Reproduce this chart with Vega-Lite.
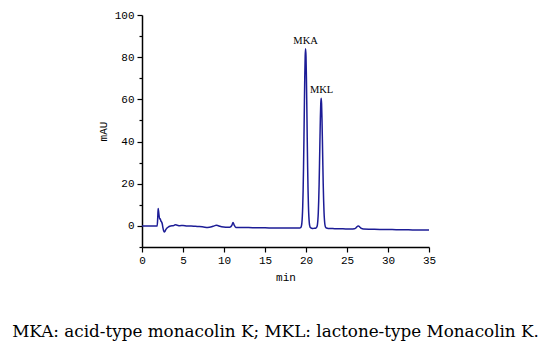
{
  "$schema": "https://vega.github.io/schema/vega-lite/v6.json",
  "width": 287,
  "height": 232,
  "autosize": {"type": "none"},
  "padding": {"left": 142, "top": 15, "right": 121, "bottom": 108},
  "background": "white",
  "config": {
    "view": {"stroke": null},
    "axis": {
      "domainColor": "black", "tickColor": "black", "labelColor": "black", "titleColor": "black",
      "grid": false, "labelFont": "Liberation Mono", "titleFont": "Liberation Mono",
      "labelFontSize": 11, "titleFontSize": 11, "titleFontWeight": "normal",
      "domainWidth": 1.5, "tickWidth": 1.2
    }
  },
  "title": {
    "text": "MKA: acid-type monacolin K; MKL: lactone-type Monacolin K.",
    "orient": "bottom", "offset": 42, "font": "DejaVu Serif", "fontSize": 16.8,
    "fontWeight": "normal", "color": "black", "anchor": "middle", "dx": -10
  },
  "layer": [
    {
      "data": {"values": [
        {"t": 0, "v": 0}, {"t": 1.0, "v": 0.0}, {"t": 1.85, "v": -0.05}, {"t": 1.92, "v": 4}, {"t": 1.97, "v": 8.2},
        {"t": 2.02, "v": 7.0}, {"t": 2.08, "v": 5.0}, {"t": 2.15, "v": 3.3}, {"t": 2.22, "v": 3.4}, {"t": 2.3, "v": 2.4},
        {"t": 2.4, "v": 1.8}, {"t": 2.48, "v": 0.8}, {"t": 2.55, "v": -0.8}, {"t": 2.63, "v": -2.2}, {"t": 2.72, "v": -2.9},
        {"t": 2.8, "v": -2.6}, {"t": 2.9, "v": -1.8}, {"t": 3.05, "v": -1.0}, {"t": 3.25, "v": -0.4}, {"t": 3.5, "v": 0.0},
        {"t": 3.8, "v": 0.1}, {"t": 4.05, "v": 0.5}, {"t": 4.3, "v": 0.3}, {"t": 4.6, "v": 0.1}, {"t": 5.0, "v": 0.2},
        {"t": 5.5, "v": 0.0}, {"t": 6.0, "v": 0.0}, {"t": 6.5, "v": -0.2}, {"t": 7.0, "v": -0.3}, {"t": 7.5, "v": -0.5},
        {"t": 8.0, "v": -0.7}, {"t": 8.5, "v": -0.4}, {"t": 8.8, "v": 0.0}, {"t": 9.05, "v": 0.3}, {"t": 9.3, "v": 0.1},
        {"t": 9.7, "v": -0.4}, {"t": 10.2, "v": -0.6}, {"t": 10.7, "v": -0.6}, {"t": 10.95, "v": 0.2}, {"t": 11.1, "v": 1.6},
        {"t": 11.25, "v": 0.3}, {"t": 11.45, "v": -0.7}, {"t": 12.0, "v": -0.8}, {"t": 13, "v": -0.8}, {"t": 14, "v": -0.9},
        {"t": 15, "v": -0.9}, {"t": 16, "v": -1.0}, {"t": 17, "v": -1.0}, {"t": 18, "v": -1.0}, {"t": 18.8, "v": -0.95},
        {"t": 19.25, "v": -0.95}, {"t": 19.35, "v": -0.85}, {"t": 19.4, "v": -0.55}, {"t": 19.45, "v": 0.1}, {"t": 19.5, "v": 1.55},
        {"t": 19.55, "v": 4.4}, {"t": 19.6, "v": 9.2}, {"t": 19.65, "v": 16.9}, {"t": 19.7, "v": 27.8}, {"t": 19.75, "v": 41.5},
        {"t": 19.8, "v": 56.6}, {"t": 19.85, "v": 70.5}, {"t": 19.9, "v": 80.4}, {"t": 19.95, "v": 84.0}, {"t": 20.0, "v": 80.4},
        {"t": 20.05, "v": 70.5}, {"t": 20.1, "v": 56.6}, {"t": 20.15, "v": 41.5}, {"t": 20.2, "v": 27.8}, {"t": 20.25, "v": 16.9},
        {"t": 20.3, "v": 9.2}, {"t": 20.35, "v": 4.4}, {"t": 20.4, "v": 1.55}, {"t": 20.45, "v": 0.1}, {"t": 20.5, "v": -0.55},
        {"t": 20.6, "v": -0.95}, {"t": 20.7, "v": -1.1}, {"t": 20.85, "v": -1.2}, {"t": 21.0, "v": -1.15}, {"t": 21.15, "v": -1.1},
        {"t": 21.25, "v": -0.9}, {"t": 21.3, "v": -0.6}, {"t": 21.35, "v": -0.2}, {"t": 21.4, "v": 0.8}, {"t": 21.45, "v": 2.9},
        {"t": 21.5, "v": 6.4}, {"t": 21.55, "v": 12.0}, {"t": 21.6, "v": 19.8}, {"t": 21.65, "v": 29.8}, {"t": 21.7, "v": 40.7},
        {"t": 21.75, "v": 50.7}, {"t": 21.8, "v": 57.9}, {"t": 21.85, "v": 60.5}, {"t": 21.9, "v": 57.9}, {"t": 21.95, "v": 50.7},
        {"t": 22.0, "v": 40.7}, {"t": 22.05, "v": 29.8}, {"t": 22.1, "v": 19.8}, {"t": 22.15, "v": 12.0}, {"t": 22.2, "v": 6.4},
        {"t": 22.25, "v": 2.9}, {"t": 22.3, "v": 0.8}, {"t": 22.35, "v": -0.2}, {"t": 22.4, "v": -0.7}, {"t": 22.5, "v": -1.0},
        {"t": 22.7, "v": -1.2}, {"t": 23.5, "v": -1.3}, {"t": 24.5, "v": -1.4}, {"t": 25.5, "v": -1.5}, {"t": 25.9, "v": -1.4},
        {"t": 26.1, "v": -0.9}, {"t": 26.3, "v": -0.1}, {"t": 26.4, "v": 0.0}, {"t": 26.55, "v": -0.5}, {"t": 26.75, "v": -1.2},
        {"t": 27.0, "v": -1.5}, {"t": 28, "v": -1.6}, {"t": 29, "v": -1.7}, {"t": 30, "v": -1.7}, {"t": 31, "v": -1.8},
        {"t": 32, "v": -1.8}, {"t": 33, "v": -1.9}, {"t": 34, "v": -1.9}, {"t": 35, "v": -2.0}
      ]},
      "mark": {"type": "line", "color": "#1c1c96", "strokeWidth": 1.5, "interpolate": "monotone"},
      "encoding": {
        "x": {
          "field": "t", "type": "quantitative",
          "scale": {"domain": [0, 35], "nice": false, "zero": false},
          "axis": {
            "title": "min",
            "values": [0, 2.5, 5, 7.5, 10, 12.5, 15, 17.5, 20, 22.5, 25, 27.5, 30, 32.5, 35],
            "labelExpr": "datum.value % 5 === 0 ? datum.label : ''",
            "tickSize": {"condition": {"test": "datum.value % 5 === 0", "value": 5}, "value": 3},
            "labelPadding": 2, "titlePadding": 6, "labelFlush": false, "labelOverlap": false
          }
        },
        "y": {
          "field": "v", "type": "quantitative",
          "scale": {"domain": [-10, 100], "nice": false, "zero": false},
          "axis": {
            "title": "mAU",
            "tickCount": 11,
            "labelExpr": "datum.value % 20 === 0 ? datum.label : ''",
            "tickSize": {"condition": {"test": "datum.value % 20 === 0", "value": 5}, "value": 3},
            "labelPadding": 3, "titlePadding": 6, "labelFlush": false, "labelOverlap": false
          }
        }
      }
    },
    {
      "data": {"values": [
        {"t": 19.95, "v": 85.5, "label": "MKA"},
        {"t": 21.9, "v": 62.3, "label": "MKL"}
      ]},
      "mark": {"type": "text", "font": "Liberation Serif", "fontSize": 10.5, "baseline": "bottom", "color": "black"},
      "encoding": {
        "x": {"field": "t", "type": "quantitative"},
        "y": {"field": "v", "type": "quantitative"},
        "text": {"field": "label"}
      }
    }
  ]
}
